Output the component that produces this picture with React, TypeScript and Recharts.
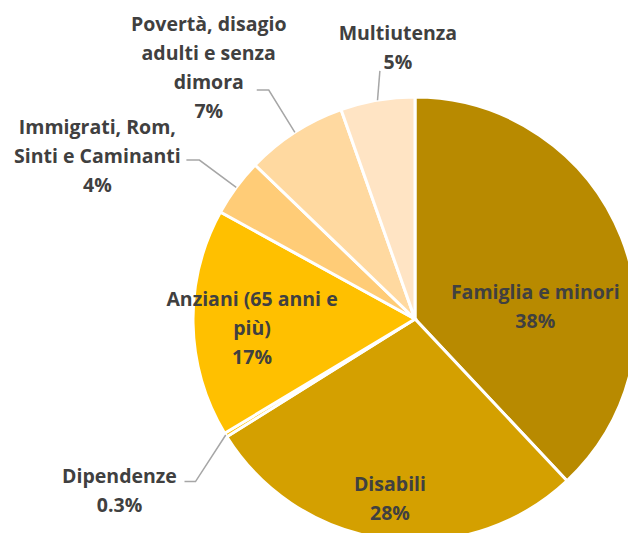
import * as React from "react";
import { PieChart, Pie, Cell } from "recharts";

// Distribuzione della spesa per area di utenza
const categories = [
  "Famiglia e minori",
  "Disabili",
  "Dipendenze",
  "Anziani (65 anni e più)",
  "Immigrati, Rom, Sinti e Caminanti",
  "Povertà, disagio adulti e senza dimora",
  "Multiutenza",
];
// shares (labels show rounded values)
const shares = [38, 28.1, 0.3, 16.6, 4.2, 7.4, 5.4];
const shareLabels = ["38%", "28%", "0.3%", "17%", "4%", "7%", "5%"];
// label text split in lines as in the original
const labelLines = [
  ["Famiglia e minori"],
  ["Disabili"],
  ["Dipendenze"],
  ["Anziani (65 anni e", "più)"],
  ["Immigrati, Rom,", "Sinti e Caminanti"],
  ["Povertà, disagio", "adulti e senza", "dimora"],
  ["Multiutenza"],
];
const colors = ["#B88A00", "#D4A000", "#FFC000", "#FFC000", "#FFCC77", "#FFD9A0", "#FFE4C4"];

// label placement: polar angle (deg, ccw from east) and radius factor; leader elbow relative to label centre
const labelLayout = [
  { angle: 6.2, rf: 0.545 },
  { angle: -98, rf: 0.81 },
  { angle: 210, rf: 1.537, elbow: [76, -8], end: [65, -8] },
  { angle: 182.8, rf: 0.735 },
  { angle: 152.7, rf: 1.61, elbow: [102, 5], end: [89, 5] },
  { angle: 129.2, rf: 1.47, elbow: [60, 24], end: [48, 24] },
  { angle: 93.6, rf: 1.228, elbow: [-18, 24] },
];

const data = categories.map((name, i) => ({ name, value: shares[i] }));

const RAD = Math.PI / 180;
const LINE_H = 29;

function renderLabel(props: any) {
  const { cx, cy, outerRadius, midAngle, index } = props;
  const lay = labelLayout[index];
  const lx = cx + outerRadius * lay.rf * Math.cos(lay.angle * RAD);
  const ly = cy - outerRadius * lay.rf * Math.sin(lay.angle * RAD);
  const lines = [...labelLines[index], shareLabels[index]];
  const top = ly - ((lines.length - 1) * LINE_H) / 2;
  let leader = null;
  if (lay.elbow) {
    const ex = cx + outerRadius * Math.cos(-midAngle * RAD);
    const ey = cy + outerRadius * Math.sin(-midAngle * RAD);
    const pts = [[ex, ey], [lx + lay.elbow[0], ly + lay.elbow[1]]];
    if (lay.end) pts.push([lx + lay.end[0], ly + lay.end[1]]);
    leader = (
      <polyline
        points={pts.map((p) => p.join(",")).join(" ")}
        fill="none"
        stroke="#A6A6A6"
        strokeWidth={1.5}
      />
    );
  }
  return (
    <g key={`lbl-${index}`}>
      {leader}
      <text
        x={lx}
        y={top}
        textAnchor="middle"
        dominantBaseline="central"
        fill="#404040"
        fontFamily="'Open Sans', sans-serif"
        fontWeight="bold"
        fontSize={19.5}
      >
        {lines.map((t, i) => (
          <tspan key={i} x={lx} y={top + i * LINE_H}>
            {t}
          </tspan>
        ))}
      </text>
    </g>
  );
}

export default function App() {
  return (
    <div style={{ position: "fixed", left: 0, top: 0, background: "#fff" }}>
      <PieChart width={628} height={533} margin={{ top: 0, right: 0, bottom: 0, left: 0 }}>
        <Pie
          data={data}
          dataKey="value"
          cx={415}
          cy={319}
          outerRadius={222}
          startAngle={90}
          endAngle={-270}
          stroke="#FFFFFF"
          strokeWidth={3}
          label={renderLabel}
          labelLine={false}
          isAnimationActive={false}
        >
          {data.map((d, i) => (
            <Cell key={d.name} fill={colors[i]} />
          ))}
        </Pie>
      </PieChart>
    </div>
  );
}
